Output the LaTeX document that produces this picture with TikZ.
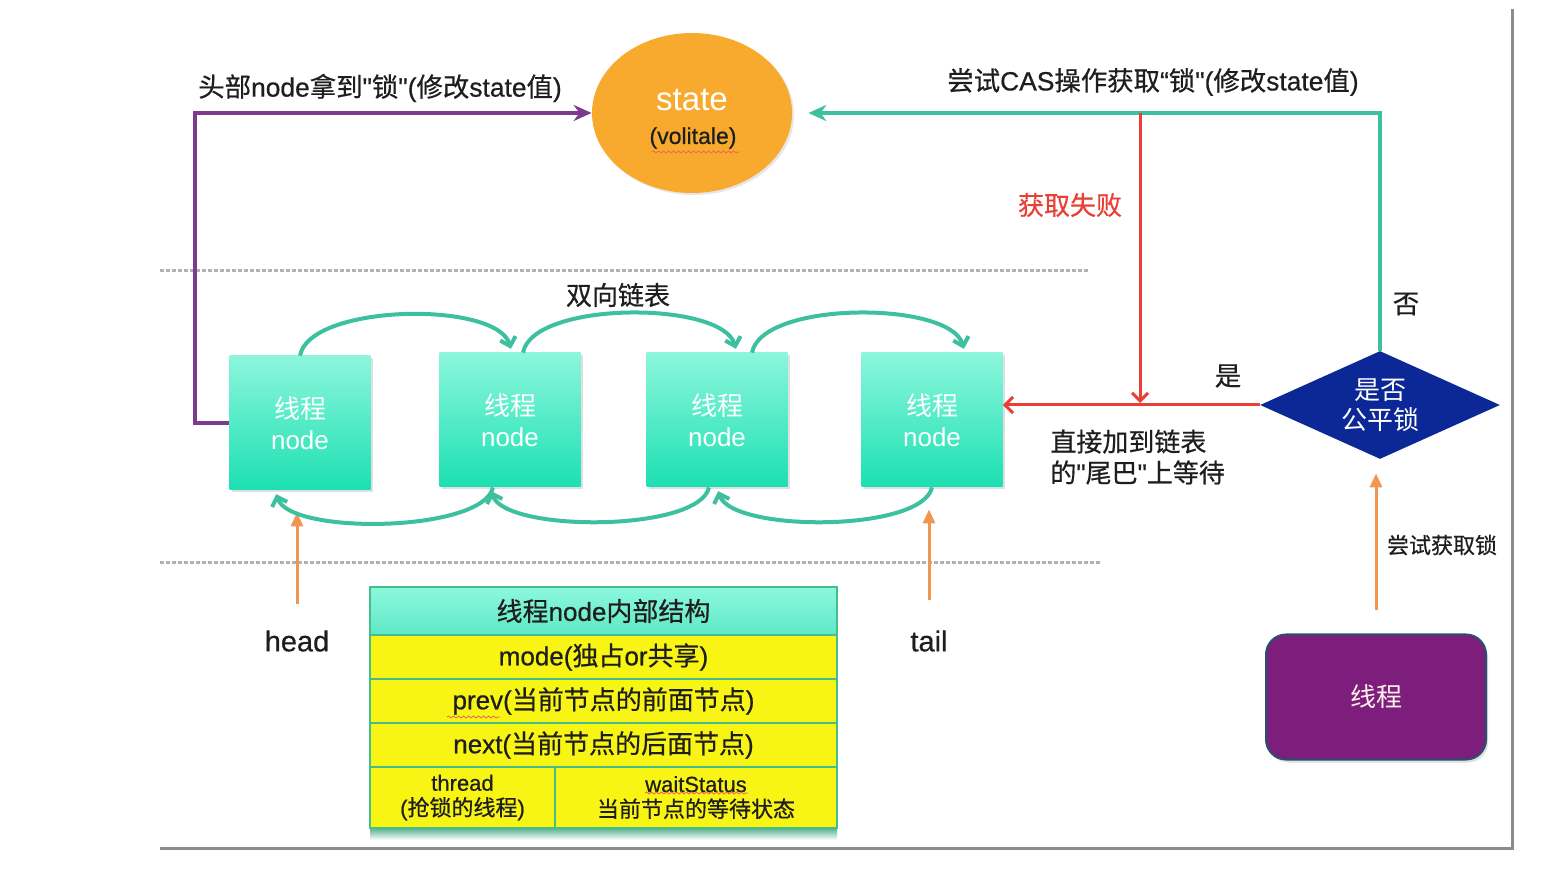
\documentclass[tikz,border=0pt]{standalone}
\usepackage{fontspec}
\setmainfont{Noto Sans CJK SC}[FakeBold=0.6]
\newfontfamily\hv{Liberation Sans}[FakeBold=0.6]
\newfontfamily\plaincjk{Noto Sans CJK SC}
\newfontfamily\plainhv{Liberation Sans}
\newcommand\latn[1]{{\hv #1}}
\newcommand\platn[1]{{\plainhv #1}}
\usetikzlibrary{arrows.meta,shapes.geometric,shadows,decorations.pathmorphing}
\definecolor{tealc}{RGB}{60,192,160}
\definecolor{purpc}{RGB}{126,58,140}
\definecolor{redc}{RGB}{232,64,52}
\definecolor{orc}{RGB}{240,150,80}
\definecolor{statec}{RGB}{247,170,45}
\definecolor{nodetop}{RGB}{140,246,220}
\definecolor{nodebot}{RGB}{28,224,178}
\definecolor{diac}{RGB}{12,40,150}
\definecolor{thrc}{RGB}{125,30,125}
\definecolor{thrb}{RGB}{40,80,110}
\definecolor{tabyel}{RGB}{248,244,20}
\definecolor{tabline}{RGB}{70,190,140}
\definecolor{tabtop}{RGB}{140,248,222}
\definecolor{tabbot}{RGB}{95,232,198}
\definecolor{txt}{RGB}{30,30,30}
\begin{document}
\begin{tikzpicture}[x=0.5pt,y=-0.5pt,
  lbl/.style={inner sep=0pt, font=\fontsize{13.2}{15}\selectfont, text=txt},
  tnode/.style={minimum width=70.5pt, minimum height=67pt, inner sep=0pt,
    top color=nodetop, bottom color=nodebot, text=white, align=center,
    font=\plaincjk\fontsize{13}{15.5}\selectfont,
    drop shadow={opacity=0.25,shadow xshift=1pt,shadow yshift=-1pt}},
  tealarr/.style={draw=tealc, line width=2pt, -{Stealth[length=9pt,width=8pt]}},
  purparr/.style={draw=purpc, line width=2pt, -{Stealth[length=9pt,width=8pt]}},
  redarr/.style={draw=redc, line width=1.5pt, -{Straight Barb[length=4pt,width=8pt]}},
  orarr/.style={draw=orc, line width=1.5pt, -{Triangle[length=7pt,width=6pt]}},
  arcline/.style={draw=tealc, line width=2pt, shorten >=2pt, -{Straight Barb[length=4pt,width=8pt]}},
  sepline/.style={draw=black!30, line width=1.5pt, dash pattern=on 2pt off 1pt},
  tab/.style={draw=tabline, line width=1pt, fill=tabyel, minimum width=233.5pt,
    minimum height=22pt, inner sep=0pt, font=\fontsize{13}{14}\selectfont, text=txt, align=center},
  squig/.style={draw=redc!80, line width=0.4pt, decorate, decoration={snake, amplitude=0.5pt, segment length=2.5pt}}
]
\useasboundingbox (0,0) rectangle (1562,870);

% frame
\draw[black!45, line width=1.5pt] (1512,9) -- (1512,848) -- (160,848);

% separators
\draw[sepline] (160,271) -- (1088,271);
\draw[sepline] (160,563) -- (1100,563);

% state
\node[ellipse, fill=statec, minimum width=100pt, minimum height=80pt, inner sep=0pt,
  drop shadow={opacity=0.2,shadow xshift=1pt,shadow yshift=-1pt}] (st) at (692,113) {};
\node[inner sep=0pt, text=white, font=\fontsize{16.5}{19}\selectfont] (stA) at (692,100) {\platn{state}};
\node[inner sep=0pt, text=txt, font=\fontsize{11.5}{13}\selectfont] (stB) at (693,138) {\latn{(volitale)}};
\draw[squig] (652,152) -- (740,152);

% thread nodes
\node[tnode] (n1) at (300,423) {线程\\\platn{node}};
\node[tnode] (n2) at (510,420) {线程\\\platn{node}};
\node[tnode] (n3) at (717,420) {线程\\\platn{node}};
\node[tnode] (n4) at (932,420) {线程\\\platn{node}};

% diamond
\node[diamond, fill=diac, minimum width=120pt, minimum height=54pt, inner sep=0pt, aspect=2.2,
  text=white, align=center, font=\plaincjk\fontsize{13}{15}\selectfont] (dia) at (1380,405) {是否\\公平锁};

% thread box
\node[rounded corners=10pt, fill=thrc, draw=thrb, line width=1pt, minimum width=110pt,
  minimum height=62.5pt, text=pink!25, font=\plaincjk\fontsize{13}{15}\selectfont,
  drop shadow={opacity=0.25,shadow xshift=1pt,shadow yshift=-1.5pt}] (thr) at (1376,697) {线程};

% labels
\node[lbl] (l1) at (380,88) {头部\latn{node}拿到\latn{"}锁\latn{"(}修改\latn{state}值\latn{)}};
\node[lbl] (l2) at (1153,82) {尝试\latn{CAS}操作获取\latn{“}锁\latn{"(}修改\latn{state}值\latn{)}};
\node[lbl, text=redc, font=\fontsize{13}{15}\selectfont] (fail) at (1070,205) {获取失败};
\node[lbl, font=\fontsize{13}{15}\selectfont] (dl) at (618,295) {双向链表};
\node[lbl] (yes) at (1228,376) {是};
\node[lbl] (no) at (1406,304) {否};
\node[lbl, font=\fontsize{13}{15.5}\selectfont, align=left, anchor=west] (tailtxt) at (1050,457)
  {直接加到链表\\的\latn{"}尾巴\latn{"}上等待};
\node[lbl, font=\fontsize{11}{13}\selectfont] (try) at (1442,545) {尝试获取锁};
\node[inner sep=0pt, text=txt, font=\fontsize{14.5}{17}\selectfont] (head) at (297,641) {\latn{head}};
\node[inner sep=0pt, text=txt, font=\fontsize{14.5}{17}\selectfont] (tail) at (929,641) {\latn{tail}};

% connectors
\draw[purparr] (n1.west) -- ++(-34,0) |- (st.west);
\draw[tealarr, shorten >=8pt] (dia.north) |- (st.east);
\coordinate (rtop) at (1140,113);
\draw[redarr, shorten >=1pt] (rtop) -- (rtop |- dia.west);
\draw[redarr] (dia.west) -- (dia.west -| n4.east);
\draw[orarr] ([yshift=11.5pt]thr.north) -- ([yshift=-7pt]thr.north |- dia.south);
\draw[orarr, shorten <=13pt, shorten >=11pt] (head.north) -- (head.north |- n1.south);
\draw[orarr, shorten <=15pt, shorten >=11pt] (tail.north) -- (tail.north |- n4.south);

% top arcs (next)
\draw[arcline] (n1.north) .. controls +(10,-52) and +(-15,-52) .. ([xshift=1pt]n2.north);
\draw[arcline] ([xshift=6.5pt]n2.north) .. controls +(10,-52) and +(-15,-52) .. ([xshift=10pt]n3.north);
\draw[arcline] ([xshift=17.5pt]n3.north) .. controls +(10,-52) and +(-15,-52) .. ([xshift=16.5pt]n4.north);

% bottom arcs (prev)
\draw[arcline] ([xshift=-8.5pt]n2.south) .. controls +(-10,45) and +(15,45) .. ([xshift=-12.5pt]n1.south);
\draw[arcline] ([xshift=-4pt]n3.south) .. controls +(-10,45) and +(15,45) .. ([xshift=-10pt]n2.south);
\draw[arcline] (n4.south) .. controls +(-10,45) and +(15,45) .. (n3.south);

% table
\shade[top color=tabline!85!black, bottom color=white] (370,826) rectangle (837,840);
\node[tab, top color=tabtop, bottom color=tabbot, minimum height=24pt] (th) at (603.5,611) {线程\latn{node}内部结构};
\node[tab] (t1) at (603.5,657) {\latn{mode(}独占\latn{or}共享\latn{)}};
\node[tab] (t2) at (603.5,701) {\latn{prev(}当前节点的前面节点\latn{)}};
\node[tab] (t3) at (603.5,745) {\latn{next(}当前节点的后面节点\latn{)}};
\node[tab, minimum width=92.5pt, minimum height=30.5pt, font=\fontsize{11}{12.5}\selectfont] (t4a) at (462.5,797.5)
  {\latn{thread}\\\latn{(}抢锁的线程\latn{)}};
\node[tab, minimum width=141pt, minimum height=30.5pt, font=\fontsize{11}{12.5}\selectfont] (t4b) at (696,797.5)
  {\latn{waitStatus}\\当前节点的等待状态};
\draw[squig] (447,717) -- (500,717);
\draw[squig] (645,793) -- (748,793);
\end{tikzpicture}
\end{document}
